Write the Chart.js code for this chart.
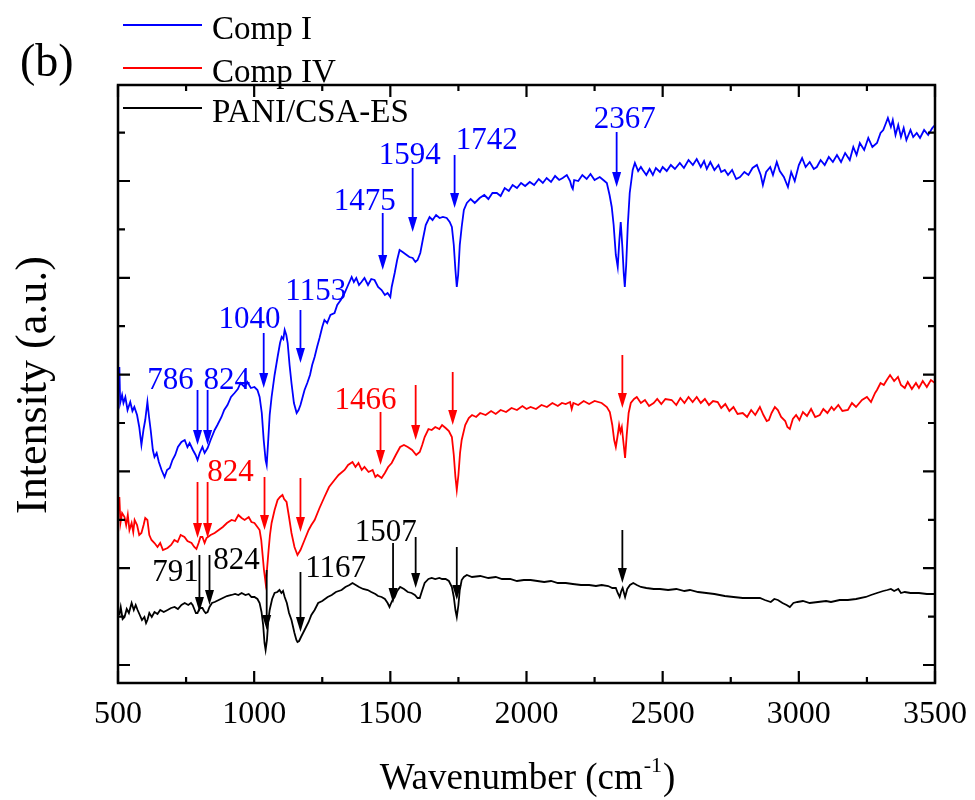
<!DOCTYPE html>
<html>
<head>
<meta charset="utf-8">
<script src="https://cdn.jsdelivr.net/npm/chart.js@4.4.0/dist/chart.umd.min.js"></script>
<style>
  html, body { margin: 0; padding: 0; background: #fff; }
</style>
</head>
<body>
<canvas id="chartCanvas" width="975" height="800"></canvas>
<script>
// spectra: [wavenumber, intensity (a.u.)]
const compI = [
  [505,298],[508,262],[515,270],[520,262],[527,268],[535,255],[545,263],[553,254],[560,258],[570,250],
  [578,238],[586,220],[594,236],[600,245],[608,263],[614,248],[620,235],[628,215],[634,208],[642,212],
  [650,203],[660,195],[671,188],[680,195],[690,197],[700,205],[710,210],[720,218],[733,223],[745,225],
  [755,218],[763,222],[775,215],[785,210],[792,205],[800,212],[810,218],[818,212],[829,217],[840,225],
  [855,235],[865,240],[880,248],[890,255],[902,260],[915,268],[928,272],[940,276],[950,282],[965,278],
  [975,283],[988,277],[1001,278],[1012,275],[1020,268],[1028,252],[1035,225],[1042,205],[1046,200],[1051,222],
  [1057,250],[1064,268],[1075,290],[1086,308],[1095,322],[1101,328],[1107,326],[1112,335],[1118,330],[1123,322],
  [1130,300],[1137,282],[1146,262],[1156,252],[1163,255],[1170,260],[1178,268],[1185,275],[1195,282],[1205,290],
  [1213,300],[1222,308],[1231,318],[1240,327],[1250,338],[1258,345],[1268,342],[1280,350],[1295,352],[1305,360],
  [1318,365],[1332,372],[1345,380],[1358,388],[1366,383],[1375,387],[1385,380],[1394,383],[1405,387],[1418,380],
  [1430,386],[1442,385],[1455,378],[1468,375],[1480,370],[1490,372],[1500,368],[1505,378],[1516,392],[1525,405],
  [1534,415],[1545,413],[1560,410],[1570,408],[1582,407],[1592,403],[1600,405],[1610,412],[1619,425],[1630,440],
  [1644,448],[1655,445],[1668,450],[1681,447],[1693,448],[1707,447],[1718,443],[1726,438],[1733,420],[1739,395],
  [1744,378],[1749,390],[1755,420],[1762,438],[1770,455],[1781,462],[1795,466],[1810,462],[1828,467],[1845,470],
  [1860,466],[1875,472],[1891,472],[1905,469],[1920,477],[1935,474],[1949,480],[1965,477],[1980,482],[1995,479],
  [2012,483],[2028,480],[2045,486],[2060,482],[2074,487],[2090,483],[2105,489],[2120,485],[2133,487],[2148,490],
  [2160,484],[2166,478],[2170,476],[2175,485],[2190,484],[2205,490],[2221,486],[2235,491],[2250,485],[2269,488],
  [2282,485],[2295,482],[2305,470],[2313,458],[2320,440],[2328,410],[2335,398],[2341,425],[2346,443],[2352,418],
  [2357,392],[2361,378],[2366,400],[2372,440],[2379,472],[2390,495],[2398,502],[2410,494],[2420,498],[2427,495],
  [2440,490],[2452,496],[2464,490],[2475,497],[2490,493],[2500,498],[2515,494],[2530,500],[2545,496],[2563,502],
  [2578,497],[2595,505],[2611,500],[2625,506],[2640,498],[2652,504],[2662,496],[2675,503],[2690,495],[2705,500],
  [2715,493],[2728,495],[2740,490],[2755,495],[2770,486],[2784,488],[2800,493],[2815,490],[2830,497],[2846,500],
  [2860,490],[2868,480],[2880,493],[2895,498],[2905,490],[2919,503],[2930,494],[2945,488],[2960,478],[2972,493],
  [2985,484],[3000,500],[3012,507],[3025,498],[3040,503],[3055,496],[3066,498],[3080,505],[3095,500],[3110,508],
  [3125,503],[3140,510],[3155,503],[3170,512],[3187,505],[3200,518],[3212,510],[3224,522],[3240,515],[3255,527],
  [3270,518],[3287,522],[3300,532],[3310,535],[3320,542],[3327,547],[3338,538],[3345,545],[3355,530],[3365,540],
  [3375,528],[3385,537],[3395,525],[3410,535],[3420,528],[3433,532],[3445,527],[3460,535],[3475,530],[3490,537],
  [3500,540]
];

const compIV = [
  [505,168],[509,142],[515,152],[524,148],[530,140],[536,150],[542,135],[550,142],[556,133],[561,145],
  [570,140],[578,130],[586,132],[594,140],[600,147],[608,145],[615,130],[623,125],[634,122],[645,118],
  [655,122],[665,115],[682,117],[695,120],[707,125],[719,123],[730,130],[744,128],[755,124],[770,122],
  [780,118],[788,116],[796,122],[803,128],[810,128],[818,122],[825,127],[840,130],[855,132],[870,135],
  [885,138],[900,142],[917,145],[930,144],[942,150],[954,147],[965,145],[980,148],[990,143],[1001,142],
  [1012,138],[1020,135],[1026,125],[1031,110],[1036,95],[1042,82],[1047,95],[1053,115],[1058,130],[1064,142],
  [1075,155],[1086,165],[1095,168],[1104,170],[1110,166],[1119,163],[1128,148],[1137,132],[1148,118],[1159,110],
  [1170,115],[1185,125],[1200,135],[1210,140],[1222,145],[1240,157],[1258,168],[1275,178],[1295,185],[1310,190],
  [1332,195],[1345,200],[1361,203],[1372,198],[1383,202],[1395,195],[1405,198],[1420,193],[1435,195],[1445,188],
  [1453,190],[1468,187],[1480,192],[1492,198],[1505,202],[1520,210],[1536,218],[1550,220],[1564,218],[1580,215],
  [1595,210],[1608,213],[1617,220],[1626,228],[1640,236],[1652,235],[1665,238],[1680,236],[1690,240],[1703,237],
  [1715,234],[1726,228],[1733,210],[1739,188],[1744,175],[1750,190],[1756,212],[1762,225],[1775,240],[1788,247],
  [1800,250],[1815,248],[1830,252],[1850,250],[1870,254],[1887,251],[1905,255],[1925,253],[1945,257],[1965,255],
  [1985,259],[2000,256],[2015,258],[2035,256],[2055,260],[2075,258],[2095,262],[2115,259],[2130,262],[2144,261],
  [2160,263],[2166,256],[2172,262],[2190,260],[2210,264],[2230,261],[2250,264],[2276,262],[2295,258],[2306,253],
  [2315,240],[2322,225],[2328,218],[2335,230],[2340,240],[2345,233],[2350,238],[2355,225],[2362,207],[2368,230],
  [2375,252],[2383,262],[2395,266],[2405,268],[2420,262],[2435,265],[2450,259],[2467,262],[2480,266],[2495,261],
  [2510,266],[2533,265],[2550,260],[2565,267],[2580,262],[2595,268],[2610,263],[2625,268],[2640,262],[2655,266],
  [2670,260],[2685,264],[2702,263],[2715,257],[2730,261],[2745,254],[2760,258],[2775,251],[2794,252],[2810,248],
  [2825,255],[2840,250],[2857,258],[2870,250],[2882,244],[2890,245],[2900,252],[2912,258],[2923,255],[2935,248],
  [2950,244],[2958,238],[2967,236],[2978,246],[2990,250],[3002,245],[3015,253],[3030,249],[3045,256],[3060,248],
  [3077,250],[3090,256],[3105,252],[3120,258],[3129,255],[3145,260],[3160,254],[3180,255],[3195,262],[3210,258],
  [3232,265],[3250,268],[3265,263],[3280,272],[3287,275],[3300,282],[3312,280],[3323,285],[3335,290],[3350,284],
  [3364,288],[3375,280],[3389,277],[3400,283],[3415,276],[3430,282],[3441,277],[3455,284],[3470,278],[3485,285],
  [3500,282]
];

const paniCsa = [
  [505,50],[510,58],[517,46],[524,48],[532,56],[540,52],[550,62],[558,55],[565,60],[572,55],
  [580,50],[588,45],[597,48],[603,42],[608,45],[615,52],[624,48],[634,53],[645,51],[655,55],
  [668,53],[682,55],[695,57],[708,58],[720,56],[733,60],[745,62],[758,60],[768,62],[774,60],
  [780,56],[786,52],[792,52],[798,56],[804,57],[810,57],[816,54],[822,52],[829,53],[836,58],
  [845,62],[855,63],[870,65],[885,67],[900,69],[917,70],[930,71],[942,70],[954,72],[968,70],
  [980,71],[990,68],[1001,68],[1012,66],[1020,62],[1027,53],[1033,40],[1038,22],[1042,15],[1047,25],
  [1052,45],[1057,55],[1066,66],[1075,72],[1085,73],[1093,75],[1100,72],[1106,74],[1112,68],[1120,62],
  [1128,52],[1137,45],[1148,32],[1155,25],[1159,23],[1165,24],[1172,28],[1185,35],[1200,43],[1210,50],
  [1222,55],[1235,62],[1250,64],[1270,68],[1285,70],[1300,73],[1321,75],[1335,78],[1350,80],[1361,82],
  [1373,80],[1385,78],[1400,76],[1417,75],[1430,73],[1445,71],[1455,69],[1468,68],[1480,66],[1490,62],
  [1497,58],[1503,62],[1510,66],[1516,68],[1525,74],[1536,78],[1550,76],[1564,73],[1578,72],[1590,70],
  [1600,67],[1608,67],[1615,73],[1626,82],[1640,86],[1652,87],[1665,86],[1680,87],[1690,86],[1703,86],
  [1715,84],[1726,78],[1733,68],[1739,55],[1744,48],[1750,60],[1755,75],[1762,85],[1770,88],[1781,90],
  [1800,88],[1830,89],[1860,87],[1887,88],[1910,86],[1940,86],[1965,84],[1990,85],[2015,85],[2040,84],
  [2065,83],[2090,84],[2115,82],[2144,82],[2170,81],[2200,80],[2230,80],[2255,79],[2276,80],[2300,79],
  [2315,77],[2328,77],[2335,72],[2342,68],[2348,74],[2353,77],[2357,73],[2362,68],[2370,76],[2380,80],
  [2392,82],[2405,80],[2420,78],[2440,77],[2467,76],[2490,76],[2520,75],[2550,76],[2580,74],[2600,75],
  [2630,73],[2660,72],[2690,71],[2728,69],[2760,68],[2794,67],[2820,67],[2857,67],[2875,65],[2897,63],
  [2910,66],[2923,65],[2940,62],[2955,60],[2967,58],[2980,62],[2995,63],[3015,64],[3040,62],[3070,63],
  [3100,64],[3118,63],[3150,65],[3180,65],[3210,66],[3246,68],[3265,70],[3287,72],[3310,74],[3325,75],
  [3338,76],[3350,74],[3365,76],[3375,72],[3389,73],[3410,72],[3441,72],[3470,71],[3500,71]
];

// peak arrows: [wavenumber, tail intensity, tip intensity]
const compIArrows = [[792,275,220],[829,275,220],[1035,332,277],[1170,355,302],[1472,452,395],[1582,497,433],[1736,510,457],[2331,533,478]];
const compIVArrows = [[792,183,127],[829,183,127],[1038,188,135],[1170,187,133],[1464,253,200],[1593,280,225],[1729,293,240],[2352,310,257]];
const paniArrows = [[799,110,53],[836,110,60],[1046,95,35],[1170,93,33],[1510,122,62],[1593,128,77],[1744,118,65],[2352,135,82]];

// peak labels: [text, wavenumber, intensity]
const compILabels = [['786',693,284],['824',899,284],['1040',983,345],['1153',1226,373],['1475',1406,463],['1594',1571,509],['1742',1854,524],['2367',2361,545]];
const compIVLabels = [['824',913,192],['1466',1409,264]];
const paniLabels = [['791',711,92],['824',935,104],['1167',1299,96],['1507',1483,132]];

const seriesNames = ['Comp I', 'Comp IV', 'PANI/CSA-ES'];
const seriesColors = ['#0000ff', '#ff0000', '#000000'];

const SERIF = '"Liberation Serif", "Times New Roman", serif';

function drawArrow(ctx, x, yTail, yTip, color) {
    const head = 15, half = 4.5;
    ctx.strokeStyle = color;
    ctx.fillStyle = color;
    ctx.lineWidth = 1.8;
    ctx.beginPath();
    ctx.moveTo(x, yTail);
    ctx.lineTo(x, yTip - head + 2);
    ctx.stroke();
    ctx.beginPath();
    ctx.moveTo(x, yTip);
    ctx.lineTo(x - half, yTip - head);
    ctx.lineTo(x + half, yTip - head);
    ctx.closePath();
    ctx.fill();
}

const frameAndNotes = {
    id: 'frameAndNotes',
    afterDatasetsDraw(chart) {
        const { ctx, chartArea: a, scales: { x, y } } = chart;
        ctx.save();

        // box and inward ticks
        ctx.strokeStyle = '#000';
        ctx.lineWidth = 2.5;
        ctx.strokeRect(a.left, a.top, a.right - a.left, a.bottom - a.top);
        ctx.lineWidth = 2.2;
        ctx.beginPath();
        for (let w = 500; w <= 3500; w += 250) {
            const px = x.getPixelForValue(w);
            const len = (w % 500 === 0) ? 12 : 6;
            ctx.moveTo(px, a.bottom); ctx.lineTo(px, a.bottom - len);
            ctx.moveTo(px, a.top); ctx.lineTo(px, a.top + len);
        }
        for (let k = 0; k < 12; k++) {
            const py = y.getPixelForValue(k * 48.4);
            const len = (k % 2 === 0) ? 12 : 7;
            ctx.moveTo(a.left, py); ctx.lineTo(a.left + len, py);
            ctx.moveTo(a.right, py); ctx.lineTo(a.right - len, py);
        }
        ctx.stroke();

        // arrows and peak labels
        const arrowSets = [compIArrows, compIVArrows, paniArrows];
        const labelSets = [compILabels, compIVLabels, paniLabels];
        arrowSets.forEach((set, i) => {
            set.forEach(([w, t, tip]) => {
                drawArrow(ctx, x.getPixelForValue(w), y.getPixelForValue(t), y.getPixelForValue(tip), seriesColors[i]);
            });
        });
        ctx.font = '31px ' + SERIF;
        ctx.textAlign = 'center';
        ctx.textBaseline = 'middle';
        labelSets.forEach((set, i) => {
            ctx.fillStyle = seriesColors[i];
            set.forEach(([text, w, v]) => {
                ctx.fillText(text, x.getPixelForValue(w), y.getPixelForValue(v));
            });
        });

        // legend
        const legendY = [25, 68, 108];
        ctx.font = '33px ' + SERIF;
        ctx.textAlign = 'left';
        ctx.textBaseline = 'alphabetic';
        seriesNames.forEach((name, i) => {
            ctx.strokeStyle = seriesColors[i];
            ctx.lineWidth = 1.8;
            ctx.beginPath();
            ctx.moveTo(123, legendY[i]);
            ctx.lineTo(202, legendY[i]);
            ctx.stroke();
            ctx.fillStyle = '#000';
            ctx.fillText(name, 212, legendY[i] + 14);
        });

        // panel letter
        ctx.font = '46px ' + SERIF;
        ctx.fillText('(b)', 20, 76);

        // axis titles
        const cx = (a.left + a.right) / 2;
        const t1 = 'Wavenumber (cm';
        ctx.font = '37px ' + SERIF;
        const w1 = ctx.measureText(t1).width;
        ctx.font = '22px ' + SERIF;
        const w2 = ctx.measureText('-1').width;
        ctx.font = '37px ' + SERIF;
        const w3 = ctx.measureText(')').width;
        const sx = cx - (w1 + w2 + w3) / 2;
        const base = 789;
        ctx.fillText(t1, sx, base);
        ctx.font = '22px ' + SERIF;
        ctx.fillText('-1', sx + w1 + 1, base - 17);
        ctx.font = '37px ' + SERIF;
        ctx.fillText(')', sx + w1 + w2 + 2, base);

        ctx.save();
        ctx.translate(46, 385);
        ctx.rotate(-Math.PI / 2);
        ctx.textAlign = 'center';
        ctx.font = '44px ' + SERIF;
        ctx.fillText('Intensity (a.u.)', 0, 0);
        ctx.restore();

        ctx.restore();
    }
};

const ctx = document.getElementById('chartCanvas').getContext('2d');
const chart = new Chart(ctx, {
    type: 'line',
    data: {
        datasets: [compI, compIV, paniCsa].map((rows, i) => ({
            label: seriesNames[i],
            data: rows.map(r => ({ x: r[0], y: r[1] })),
            borderColor: seriesColors[i],
            borderWidth: 1.8,
            pointRadius: 0,
            fill: false,
            tension: 0
        }))
    },
    options: {
        responsive: false,
        animation: false,
        layout: { padding: { left: 118, right: 40, top: 85, bottom: 0 } },
        plugins: {
            legend: { display: false },
            tooltip: { enabled: false }
        },
        scales: {
            x: {
                type: 'linear',
                min: 500,
                max: 3500,
                afterFit: scale => {
                    scale.height = 117;
                    scale.paddingLeft = 0;
                    scale.paddingRight = 0;
                },
                grid: { display: false, drawTicks: false },
                border: { display: false },
                ticks: {
                    stepSize: 500,
                    maxRotation: 0,
                    padding: 12,
                    color: '#000',
                    font: { family: SERIF, size: 32 },
                    callback: v => String(v)
                }
            },
            y: {
                display: false,
                min: -18,
                max: 580
            }
        }
    },
    plugins: [frameAndNotes]
});
</script>
</body>
</html>
